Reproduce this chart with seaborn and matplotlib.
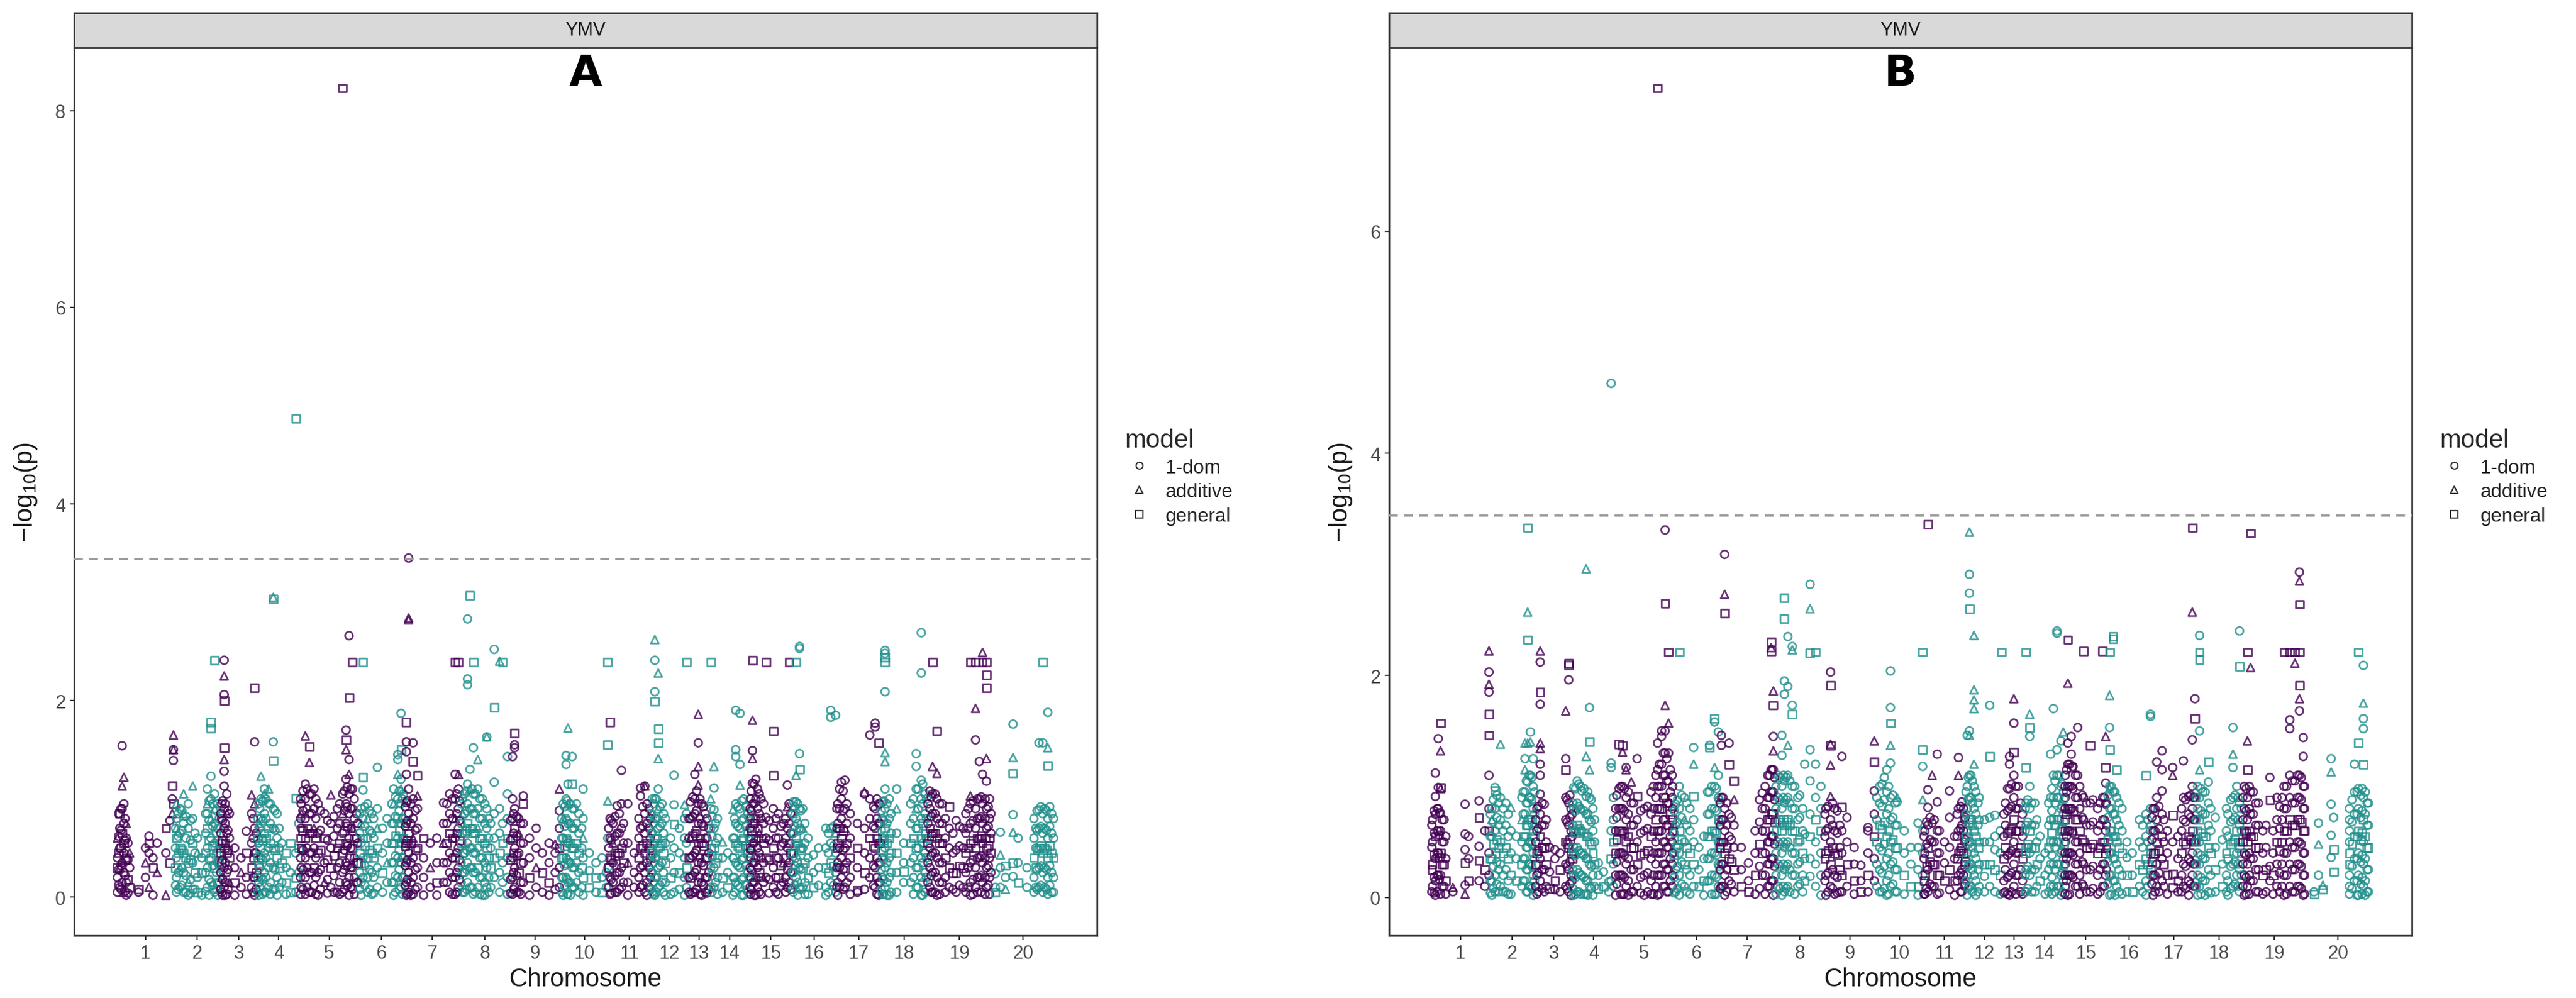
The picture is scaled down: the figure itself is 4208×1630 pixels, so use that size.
import numpy as np
import pandas as pd
import matplotlib
matplotlib.use("Agg")
import matplotlib.pyplot as plt
import seaborn as sns
from matplotlib.lines import Line2D

chromosomes = list(range(1, 21))
chrom_len_mb = [59, 46, 38, 43, 59, 47, 56, 50, 52, 48, 43, 38, 22, 40, 43, 45, 45, 47, 65, 64]
model_codes = {"c": "1-dom", "t": "additive", "s": "general"}
model_names = ["1-dom", "additive", "general"]
threshold = 3.44
chrom_colors = {"odd": "#440154", "even": "#21908C"}
panel_title = "YMV"

# one string per chromosome: "position(% of chromosome):model+(-log10 p * 100),..."
# peaks and scattered markers
ymv_a = [
    "2:c40,c20,c5,t60,s30 6:c70,c50,s85,c10,t30 10:c154,t113,c90,s65,c35,c15 13:t122,c95,c75,s55,c45,c25,t5 17:t75,c60,s40,c15,c2 23:c30,s10,t45 38:c5,s8 50:c50,t35,c20 56:c62,c45,s55,t10 63:c40,c2,s30 70:c55,t25 85:s70,c45,t2 92:c78,s35 96:c100,s113,t85 98:c139,t150,t165,c150,s95",
    "4:c80,t70,s60,c40,c20,c5,t95 12:c90,c65,s50,t30,c10 20:t85,c75,s45,c25,c5,t105 30:c95,c70,s35,t15,c2 40:t113,c80,s55,c35,c8 50:c60,t45,c20,s5 60:c40,s25,c2 72:c110,t95,c85,s70,c50,c30,c10 80:s178,s172,c123,c100,t80,c60,s40,c15 88:s241,c105,t90,c75,c55,s30,c5 95:c95,c70,t50,c35,s15,c2",
    "4:c95,c80,c55,s35,t20,c5 11:c241,t225,c206,s200,s152,t140,c128,c113,c90,c70,s50,c30,c10 18:c105,t85,c65,s45,c25,c3 25:c85,c60,s40,t15 39:c50,c30,s15,c2 56:c40,t25,c10 70:c67,s45,c20,c3 84:t104,c85,c55,s30,c10 92:s213,c158,t95,c70,c45,c20,c2",
    "3:c95,t75,c55,s35,c15,c2 8:t123,c100,c80,s60,c40,c20 16:c110,t105,c85,s65,c45,c25,c5 26:t110,c95,s70,c50,c30,c10 37:t305,s303,c158,s139,c90,c70,s50,c30,c8 46:c85,c60,s40,c20,c2 57:c55,s35,c15 67:s45,c30,s15,c3 77:s55,c25,s5 90:s487,s101,c45,s20,c5 97:c75,s50,c25",
    "2:t85,c95,c70,s50,c30,c10 9:t164,c115,c100,c80,s60,c40,c20,c3 16:s153,t137,c105,c85,s65,c45,c25,c5 24:c110,c90,t70,c50,s30,c12 31:c95,c65,s45,c25,c2 42:c85,s60,c35,t15 53:t104,c75,c50,s30,c10 64:c90,c70,s50,c30,c5 73:s823,c105,t85,c65,s45,c25,c5 79:c170,s160,t150,c120,c95,c75,s55,c35,c15 84:c266,s203,c140,t125,c105,c85,c60,s40,c20,c2 90:s239,c110,c90,t70,s50,c30,c8 97:c85,c60,s35,c15",
    "6:c90,t75,c55,s35,c15,c2 10:s239,s122,c109,c80,s60,c40,c20 20:c95,t80,c60,s40,c20,c5 29:c85,c65,s45,c25,c3 41:c132,c90,t70,s50,c30,c10 52:c70,c45,s25,c5 62:c80,c55,t35,c15 76:c110,t95,c75,s55,c35,c15,c2 85:c145,c140,t125,c100,s80,c60,c40,c20 92:c187,s150,c120,t110,c95,c75,s55,c35,c10 97:c105,c80,s60,c40,c20",
    "3:s178,c158,c148,c125,c96,c75,s55,c35,c15,c2 7:c345,t284,t282,c110,c85,s65,c45,c25,c5 15:c157,s138,c100,c80,t60,c40,c20,c3 23:t103,s124,c90,c70,s50,c30,c10 34:s60,c40,c20,c2 46:c55,t30,c10 58:c60,c35,s15,c2 70:c96,c75,t55,c35,c15 81:c105,c85,s65,c45,c25,c5 91:s239,c125,c100,t80,c60,s40,c20,c3 97:s239,t125,c110,c90,c70,c50,c30,c10",
    "5:c100,t85,c65,s45,c25,c5 15:c283,c222,c216,c115,c95,s75,c55,c35,c15 20:s307,c130,t110,c90,s70,c50,c30,c10 27:s239,c152,c105,c85,s65,c45,c25,c3 36:t140,c110,c90,t70,c50,s30,c10 45:c100,c80,s60,c40,c20,c2 54:t163,c163,c90,c70,s50,c30,c10 62:c75,c50,s30,c10 69:c252,s193,c117,c85,c60,s40,c20 80:t240,c90,c65,s45,c25,c5 86:s239,c75,s55,c35,c15 96:c143,c105,c80,s60,c40,c20,c3",
    "6:c143,c100,c80,s60,c40,c20,c3 10:s167,c155,c152,c90,s70,c50,c30,c10 18:c80,t65,c45,s25,c5 27:c103,s95,c75,c55,c35,c15 39:c60,c40,s20,c2 52:c70,c50,t30,c10 64:c45,s25,c5 77:c55,c35,s15,c2 89:t54,c45,c25,c8 97:t110,c88,c70,s50,c30,c10",
    "5:c95,t80,c60,s40,c20,c2 11:c144,c135,c100,c80,s60,c40,c20 15:t172,c115,t95,c75,c55,s35,c15,c3 24:s115,c143,c90,c70,s50,c30,c10 33:c95,c75,s55,c35,c15 47:c110,c80,t60,c40,s20,c2 60:c45,c27,s10 74:c35,s20,c5 87:c40,c20,s5 96:c25,c10 99:s239,s155,t98,c60,c30",
    "4:s178,c80,c60,s40,c20,c3 11:c75,t55,c35,c15 21:c93,c65,s45,c25,c5 31:c129,c95,c70,s50,c30,c10 46:c95,c55,t35,c15,c2 61:c45,c25,c10 76:c111,c103,c70,s50,c30,c10 86:c113,t113,c85,c65,s45,c25,c5 96:c90,c70,s50,c30,c10",
    "4:c100,t85,c65,s45,c25,c5 11:t262,c241,c209,s199,c100,c80,s60,c40,c20,c2 20:t228,s171,s157,t141,c110,t90,c70,s50,c30,c10 30:c95,c75,s55,c35,c15 39:c80,c55,s35,c15,c2 53:c60,c40,s20,c3 62:c124,c94,s74,c50,c25,c5 76:c70,c45,s25,c8 90:t94,c80,c60,c40,c20,c2 95:s239,c85,c55,s30,c10",
    "10:c97,c80,t60,c40,s20,c3 30:c125,c100,c85,s65,c45,c25,c5 46:t186,c157,t133,t114,c95,c75,s55,c35,c15 62:c95,c75,s55,c35,c15,c2 78:c85,c60,s40,c20,c5 94:c70,c45,c25,c8",
    "2:s239,t100,c90,c70,s50,c30,c10 10:t133,c111,c89,c70,s50,c30,c10 19:c80,c60,s40,c20,c3 32:t56,c40,s20,c5 45:c45,c25,s10 58:t89,c60,c40,c20,c2 65:c190,c150,c143,c95,c75,s55,c35,c15 76:c187,c135,t114,c90,c70,s50,c30,c10 85:c100,c80,s60,c40,c20,c2 96:c85,c65,s45,c25,c5",
    "2:c100,c80,s60,c40,c20,c3 7:s241,t180,c149,t141,c116,c95,s75,c55,c35,c15 15:c120,c100,c80,s60,c40,c20,c2 23:c105,c85,t65,c45,s25,c5 39:s239,c81,c60,s40,c20 56:s169,s124,c90,c70,s50,c30,c10 68:c85,c60,c40,s20,c3 80:c75,c55,t35,c15 89:c114,t92,c70,c50,s30,c10 93:s239,c95,c75,s55,c35,c15",
    "3:c97,t85,c65,s45,c25,c5 9:s239,t124,c97,c80,s60,c40,c20 17:c255,c253,c146,s130,c90,c70,s50,c30,c10 24:c90,t70,c50,s30,c10 36:c60,c40,s20,c3 48:c43,c25,s10 60:c50,c30,c12 76:c70,c50,s30,c10,c2 87:c190,c183,c70,c55,s35,c15 98:c185,t65,c45,c25,c5",
    "3:c95,c75,s55,c35,c15,c2 11:c117,c100,c80,s60,c40,c20 19:c119,c90,t70,c50,s30,c10 31:c85,c60,s40,c20,c3 47:c75,s50,c30,s7,c5 63:c105,t107,c70,c45,s25,c8 75:c165,c100,c80,s60,c40,c20 87:c177,c173,c90,c70,s50,c30,c10 95:s157,c95,c75,s55,c35,c15,c2",
    "3:c97,c80,s60,c40,c20,c3 9:c251,c248,s244,s239,c209,t147,t138,c110,c90,s70,c50,c30,c10 18:c100,c80,s60,c40,c20,c2 34:c110,t90,c65,s45,c25,c5 49:s26,c55,c35,c15 64:c95,c75,s55,c35,c15 76:c146,c133,c110,t90,c70,s50,c30,c10 87:c269,c228,c119,c100,c80,s60,c40,c20,c2 95:c105,c85,s65,c45,c25,c5",
    "4:c108,c90,s70,c50,c30,c10 8:s239,t133,c105,c85,s65,c45,c25,c5 15:s169,t126,c100,c80,s60,c40,c20,c2 23:c95,c75,s55,c35,c15 34:s92,c70,c50,s30,c10 45:c78,c48,s25,c5 56:c70,c50,s30,c10 67:s239,t103,c95,c75,s55,c35,c15,c2 75:s239,t192,c160,c90,c70,s50,c30,c10 81:c138,c100,c80,s60,c40,c20 86:s239,t249,c125,c95,c75,s55,c35,c15 92:s239,s226,s213,t141,c118,c90,c70,s50,c30,c10 97:c100,c80,s60,c40,c20,c3",
    "6:c24,c10,s5 14:c66,t43,c30,c10 22:s32,c20,t8 34:c176,t142,s126,c84,t66,s35,c21 42:c60,c35,s15 56:c30,c10 70:c70,c50,s30,c10 75:c157,c89,c70,s50,c30,c10 81:s239,c157,c85,c65,s45,c25,c5 89:c188,t152,s134,c80,c60,s40,c20,c3 95:c85,c65,s45,c25,c5",
]

# the densely packed markers of the main columns
ymv_a_dense = [
    "4:c85,c62,s45,c28,c12 8:c90,c68,s50,c32,c8 15:c80,c58,s38,c22,c6 20:c55,c38,s18,c4",
    "2:c70,c50,s30,c12 8:c85,c62,s45,c25,c8 16:c88,c68,s48,c30,c12 25:c82,c60,s40,c22,c5 35:c78,c58,s38,c18,c4 45:c65,c45,s25,c8 68:c85,c65,s45,c25,c6 76:c98,c78,s58,c38,c18,c2 84:c95,c72,s52,c32,c12 92:c88,c65,s45,c25,c8 98:c80,c55,s35,c15",
    "2:c85,c65,s45,c25,c8 7:c98,c78,s58,c38,c18,c2 14:c95,c75,s55,c35,c15,c2 21:c88,c68,s48,c28,c8 89:c80,c60,s40,c20,c5 96:c65,c45,s25,c8",
    "1:c80,c60,s40,c20,c5 5:c90,c70,s50,c30,c10 12:c98,c78,s58,c38,c18,c3 20:c100,c80,s60,c40,c20,c5 30:c95,c75,s55,c35,c15,c3 41:c88,c68,s48,c28,c8 51:c70,c50,s30,c10",
    "1:c100,c80,s60,c40,c20,c3 5:c108,c88,s68,c48,c28,c8 12:c110,c90,s70,c50,c30,c10 20:c105,c85,s65,c45,c25,c5 27:c100,c80,s60,c40,c20,c3 35:c88,c68,s48,c28,c8 47:c78,c58,s38,c18,c4 58:c82,c62,s42,c22,c5 68:c95,c75,s55,c35,c15,c3 76:c108,c88,s68,c48,c28,c8 81:c112,c92,s72,c52,c32,c12 87:c110,c90,s70,c50,c30,c10 93:c100,c80,s60,c40,c20,c3 99:c75,c55,s35,c15",
    "3:c85,c65,s45,c25,c8 14:c92,c72,s52,c32,c12 24:c88,c68,s48,c28,c8 33:c80,c60,s40,c20,c4 72:c95,c75,s55,c35,c15 80:c102,c82,s62,c42,c22,c5 88:c108,c88,s68,c48,c28,c8 95:c100,c80,s60,c40,c20,c3",
    "1:c92,c72,s52,c32,c12 5:c98,c78,s58,c38,c18,c3 11:c95,c75,s55,c35,c15,c2 19:c88,c68,s48,c28,c8 76:c95,c75,s55,c35,c15 86:c100,c80,s60,c40,c20,c3 94:c105,c85,s65,c45,c25,c5 99:c98,c78,s58,c38,c18",
    "2:c95,c75,s55,c35,c15 9:c105,c85,s65,c45,c25,c5 13:c108,c88,s68,c48,c28,c8 24:c110,c90,s70,c50,c30,c10 31:c105,c85,s65,c45,c25,c5 40:c100,c80,s60,c40,c20,c3 50:c95,c75,s55,c35,c15,c2 58:c80,c60,s40,c20,c5",
    "2:c78,c58,s38,c18,c4 8:c85,c65,s45,c25,c8 14:c82,c62,s42,c22,c5 22:c75,c55,s35,c15,c3",
    "2:c80,c60,s40,c20,c5 8:c92,c72,s52,c32,c12 13:c98,c78,s58,c38,c18,c3 20:c95,c75,s55,c35,c15,c2 28:c90,c70,s50,c30,c10 38:c85,c65,s45,c25,c5 44:c70,c50,s30,c10",
    "1:c70,c50,s30,c10 7:c78,c58,s38,c18,c4 16:c82,c62,s42,c22,c5 26:c85,c65,s45,c25,c8 36:c75,c55,s35,c15 72:c80,c60,s40,c20,c5 81:c92,c72,s52,c32,c12 91:c95,c75,s55,c35,c15,c2 99:c80,c60,s40,c20",
    "1:c85,c65,s45,c25,c8 7:c95,c75,s55,c35,c15,c3 15:c100,c80,s60,c40,c20,c5 25:c92,c72,s52,c32,c12 34:c85,c65,s45,c25,c5",
    "3:c80,c60,s40,c20,c5 20:c102,c82,s62,c42,c22,c5 38:c108,c88,s68,c48,c28,c8 54:c100,c80,s60,c40,c20,c3 70:c92,c72,s52,c32,c12 86:c80,c60,s40,c20,c4",
    "5:c82,c62,s42,c22,c5 14:c75,c55,s35,c15 62:c80,c60,s40,c20,c5 70:c92,c72,s52,c32,c12 80:c98,c78,s58,c38,c18,c2 90:c92,c72,s52,c32,c12 99:c80,c60,s40,c20",
    "1:c90,c70,s50,c30,c10 4:c108,c88,s68,c48,c28,c8 11:c115,c95,s75,c55,c35,c15,c2 19:c110,c90,s70,c50,c30,c10 27:c100,c80,s60,c40,c20,c3 33:c95,c75,s55,c35,c15 46:c78,c58,s38,c18,c4 62:c80,c60,s40,c20,c5 74:c72,c52,s32,c12 85:c80,c60,s40,c20,c5 97:c85,c65,s45,c25,c8",
    "1:c85,c65,s45,c25,c8 6:c92,c72,s52,c32,c12 13:c95,c75,s55,c35,c15,c2 20:c88,c68,s48,c28,c8 29:c75,c55,s35,c15,c3 82:c65,c45,s25,c5 93:c72,c52,s32,c12",
    "1:c90,c70,s50,c30,c10 7:c110,c90,s70,c50,c30,c10 15:c108,c88,s68,c48,c28,c8 23:c95,c75,s55,c35,c15 83:c92,c72,s52,c32,c12 91:c100,c80,s60,c40,c20,c3 98:c95,c75,s55,c35,c15",
    "1:c88,c68,s48,c28,c8 6:c98,c78,s58,c38,c18,c3 13:c95,c75,s55,c35,c15,c2 22:c85,c65,s45,c25,c5 70:c100,c80,s60,c40,c20,c3 80:c110,c90,s70,c50,c30,c10 90:c115,c95,s75,c55,c35,c15,c2 98:c100,c80,s60,c40,c20",
    "1:c95,c75,s55,c35,c15 6:c102,c82,s62,c42,c22,c5 12:c105,c85,s65,c45,c25,c5 19:c95,c75,s55,c35,c15,c3 28:c80,c60,s40,c20,c5 40:c65,c45,s25,c8 50:c72,c52,s32,c12 60:c85,c65,s45,c25,c5 64:c90,c70,s50,c30,c10 71:c98,c78,s58,c38,c18,c3 78:c100,c80,s60,c40,c20,c5 84:c102,c82,s62,c42,c22,c5 90:c100,c80,s60,c40,c20,c3 95:c92,c72,s52,c32,c12 99:c85,c65,s45,c25",
    "67:c80,c60,s40,c20,c5 72:c88,c68,s48,c28,c8 78:c92,c72,s52,c32,c12 84:c90,c70,s50,c30,c10 87:c88,c68,s48,c28,c8 92:c92,c72,s52,c32,c12 98:c80,c60,s40,c20,c5",
]

ymv_b = [
    "2:c70,c50,s30,c10 7:c112,c91,c75,s55,c35,c15,c2 12:c143,c99,c80,s60,c40,c20 16:s157,t132,s99,t98,c76,c60,s40,c20,c3 22:c70,c50,s30,c10 37:t9,c5 58:c84,c57,c43,s31,c11,t3 64:c55,c35,s15 82:c87,s72,c46,s33,c15 92:c60,s25,c10 99:t222,c203,t192,c185,s165,s146,c110,c80,s60,c40,c20",
    "5:c80,t70,c55,s35,c15,c2 12:c99,s96,c80,c60,s40,c20,c5 24:t138,c90,c70,s50,c30,c10 36:c85,c65,s45,c25,c5 47:t81,c60,c40,s20,c3 59:c55,c35,s15 71:c90,t70,c50,s30,c10 78:t139,c125,t115,c95,c75,s55,c35,c15 84:s333,t257,s232,t139,c104,c85,s65,c45,c25,c5 90:c149,t140,c110,c90,s70,c50,c30,c10 96:c125,c100,c80,s60,c40,c20,c2",
    "5:c80,c60,s40,c20,c3 14:t222,c212,s185,c174,t139,t134,c120,c110,c93,c75,s55,c35,c15 25:c84,c65,s45,c25,c5 39:c45,c23,s8 53:c43,c35,s15,c7 67:c40,s25,c5 82:t168,c125,s115,c90,c70,s50,c30,c10 90:s211,s209,c196,c85,c65,s45,c25,c5 96:c80,c60,s40,c20,c2",
    "3:c99,c80,s60,c40,c20,c2 11:c105,c85,s65,c45,c25,c5 22:c96,t80,c60,s40,c20 32:t296,t127,c91,c75,s55,c35,c15,c3 40:c171,s140,t115,c90,c70,s50,c30,c10 48:c80,c60,s40,c20,c2 61:c31,c20,s8 73:c23,s10 85:c14,c5 91:c463,c121,c117,c60,s35,c15 96:c90,c70,s50,c30,c10",
    "1:c80,c60,s40,c20,c2 7:s138,c98,c80,s60,c40,c20 13:s137,t131,c100,c80,s60,c40,c20,c3 19:t115,c117,c90,c70,s50,c30,c10 28:t104,c85,c65,s45,c25,c5 38:c125,s91,c70,c50,s30,c10 50:c80,c60,s40,c20,c2 62:c95,c75,s55,c35,c15,c3 73:s729,c139,c115,c100,c80,s60,c40,c20,c2 80:c150,c145,c120,c100,s80,c60,c40,c20 86:c331,s265,t173,c150,c130,c110,c90,s70,c50,c30,c10 92:s221,t157,c130,c105,c85,s65,c45,c25,c5 98:c110,c90,s70,c50,c30,c10",
    "5:c84,c65,s45,c25,c5 13:s221,c100,c80,s60,c40,c20,c2 24:c90,t70,c50,s30,c10 36:c80,c60,s40,c20,c3 44:c135,t120,s91,c70,c50,s30,c10 55:c45,c25,s10 66:c55,c35,s15,c2 78:c137,s135,c95,c75,s55,c35,c15 89:s161,c158,t117,c100,c80,s60,c40,c20,c3 97:c149,c110,c90,s70,c50,c30,c10",
    "3:c146,c137,c90,c70,s50,c30,c10 9:c309,t273,s256,c80,c60,s40,c20,c2 17:c139,s120,c75,c55,s35,c15 26:s105,t88,c65,c45,s25,c5 39:c45,c25,s10 52:c31,c15,s5 64:c60,c40,s20,c3 77:c94,c80,c60,s40,c20 87:c110,c90,s70,c50,c30,c10 93:s230,t225,s222,c115,c95,s75,c55,c35,c15 97:t186,s173,c145,t132,c115,c95,s75,c55,c35,c15,c2",
    "6:c110,c90,s70,c50,c30,c10 14:c146,c128,c100,c80,s60,c40,c20,c2 19:s270,s251,c195,c183,c105,c85,s65,c45,c25,c5 26:c235,c190,t137,c110,c90,s70,c50,c30,c10 35:c226,t223,c173,s165,c100,c80,s60,c40,c20 46:c90,c70,s50,c30,c10 60:c120,c57,c35,s15 71:c282,t260,s220,c133,c105,c75,s55,c35,c19 82:s221,c120,c90,s70,c50,c30,c10 93:c100,c80,s60,c40,c20,c2",
    "3:c80,c60,s40,c20,c2 12:c203,s191,t138,s137,t119,t91,c70,c50,s30,c10 20:c80,c60,s40,c20,c3 34:c127,s81,c60,c40,s20,c5 44:c72,c50,s30,c10 58:c45,c30,s15,c3 71:c29,c15,s5 85:c63,c60,c40,s20,c5 97:t141,s122,c96,c75,s55,c35,c15",
    "8:c100,c85,s65,c45,c25,c5 23:c115,c95,c75,s55,c35,c15,c2 31:c204,c171,s157,t137,c121,c90,c70,s50,c30,c10 45:t90,c86,c65,s45,c25,c5 60:c60,c40,s20,c3 74:c45,c30,s10 89:c67,c45,c25,s10,c2 99:s221,s133,c118,t88,c60,c40,c20",
    "4:c60,c40,s20,c3 11:s336,c97,c81,c65,s45,c25,c5 21:t110,c67,c50,s30,c10 33:c129,c86,c60,c40,s20,c3 50:c50,c31,s15 62:c96,c72,c45,s25,c7 74:c55,c35,s15,c2 83:c126,t110,c80,c60,s40,c20 91:c86,c65,s45,c25,c5 97:c70,c50,s30,c10",
    "4:c146,c100,c80,s60,c40,c20,c2 10:t329,c291,c274,s260,c150,t146,c110,c90,s70,c50,c30,c10 22:t236,t187,t178,t170,t120,c100,c80,s60,c40,c20 36:c90,c70,s50,c30,c10 50:c70,c50,s30,c19,c5 64:c173,s127,c72,c50,s30,c10 78:c74,c55,c43,s25,c5 92:c60,c40,s20,c3 95:s221",
    "10:c85,c65,s45,c25,c5 29:c127,c120,c98,c80,s60,c40,c20,c2 49:t179,c157,s131,c110,c90,s70,c50,c30,c10 70:c100,c80,s60,c40,c20 89:c75,c55,s35,c15,c3",
    "3:s221,s117,c85,c65,s45,c25,c5 12:t165,s153,c145,c100,c80,s60,c40,c20 25:c85,c65,s45,c25,c5 38:c55,c35,s15 51:c40,c20,c3 65:c129,c90,c70,s50,c30,c10 72:c170,c110,c90,s70,c50,c30,c10 81:c240,c238,c133,c110,c90,s70,c50,c30,c10 91:c141,c100,c80,s60,c40,c20,c2 97:t149,c95,c75,s55,c35,c15",
    "2:c110,c90,s70,c50,c30,c10 8:s232,t193,c139,c120,c100,s80,c60,c40,c20,c2 16:c145,s117,c129,c100,c80,s60,c40,c20 31:c153,c110,c90,s70,c50,c30,c10 45:s222,c90,c70,s50,c30,c10 61:s137,c85,c65,s45,c25,c5 78:c80,c60,s40,c20,c3 90:s222,c90,c70,s50,c30,c10 97:t145,s117,c103,c84,c60,s40,c20",
    "6:s221,t182,c153,s133,c100,t98,c80,s60,c40,c20,c2 14:s235,s233,c95,c75,s55,c35,c15 22:s115,c90,c70,s50,c30,c10 34:c80,c60,s40,c20,c3 45:c50,c36,s20,c5 57:c40,c20,s5 73:c70,c50,s30,c10 88:s110,c75,c55,s35,c15,c2 98:c165,c163,c80,c60,s40,c20",
    "4:c80,c60,s40,c20,c2 12:c122,c90,c70,s50,c30,c10 24:c132,c115,c96,c75,s55,c35,c15 36:c60,c40,s20,c3 48:c117,t110,s74,c50,s21,s9 60:c55,c35,s15,c5 72:c123,c90,c70,s50,c30,c10 84:c91,c75,s55,c35,c15,c2 92:s333,t257,c142,c100,c80,s60,c40,c20 98:c179,s161,c90,c70,s50,c30,c10",
    "4:c100,c80,s60,c40,c20,c2 8:c236,s221,s214,c150,t115,c90,s70,c50,c30,c10 15:c95,c75,s55,c35,c15 27:c104,s122,c85,c65,s45,c25,c5 42:c72,c45,s25,c5 57:c52,c30,s10 69:c75,c55,s35,c15,c2 80:c153,t129,c117,c90,c70,s50,c30,c10 88:c100,c80,s60,c40,c20 94:c240,s208,c85,c65,s45,c25,c5",
    "3:c100,c80,s60,c40,c20,c2 8:s221,t141,s115,c90,c70,s50,c30,c10 13:s328,t207,c95,c75,s55,c35,c15 21:c85,c65,s45,c25,c5 32:c60,c40,s20,c3 43:c108,s88,c28,c15 54:c90,c70,s50,c30,c10 65:s221,c100,c80,s60,c40,c20,c2 74:s221,c160,c152,c110,c90,s70,c50,c30,c10 82:s221,t211,c105,c85,s65,c45,c25,c5 89:c293,t285,s264,s221,s191,t179,c168,c110,c90,s70,c50,c30,c10 95:c144,c127,c100,c80,s60,c40,c20,c2",
    "12:s3,c5 19:t48,c67,c20 26:s7,t11 39:c125,t113,c84,c56,c36 43:c72,s43,s23 68:c80,c60,s40,c20,c3 76:c120,c95,c75,s55,c35,c15 82:s221,s139,c98,c80,s60,c40,c20,c2 90:c209,t175,c161,c152,s120,c90,s70,c50,c30,c10 96:c85,c65,s45,c25,c5",
]

ymv_b_dense = [
    "1:c65,c45,s25,c5 5:c78,c58,s38,c18,c4 10:c80,c60,s40,c20,c5 14:c76,c56,s36,c16 19:c70,c50,s30,c10 25:c55,c35,s15,c3",
    "2:c75,c55,s35,c15,c4 8:c88,c68,s48,c28,c8 16:c92,c72,s52,c32,c12 20:c85,c65,s45,c25,c5 30:c80,c60,s40,c20,c5 41:c75,c55,s35,c15,c3 74:c95,c75,s55,c35,c15 81:c105,c85,s65,c45,c25,c5 87:c110,c90,s70,c50,c30,c10 93:c108,c88,s68,c48,c28,c8 99:c95,c75,s55,c35,c15",
    "2:c70,c50,s30,c10 9:c82,c62,s42,c22,c5 19:c85,c65,s45,c25,c8 30:c70,c50,s30,c10 86:c88,c68,s48,c28,c8 93:c92,c72,s52,c32,c12 99:c75,c55,s35,c15",
    "1:c85,c65,s45,c25,c8 7:c98,c78,s58,c38,c18,c3 15:c102,c82,s62,c42,c22,c5 19:c100,c80,s60,c40,c20,c3 27:c98,c78,s58,c38,c18,c3 36:c95,c75,s55,c35,c15,c2 44:c88,c68,s48,c28,c8 52:c70,c50,s30,c10",
    "3:c92,c72,s52,c32,c12 10:c100,c80,s60,c40,c20,c3 16:c98,c78,s58,c38,c18,c3 23:c95,c75,s55,c35,c15,c2 32:c85,c65,s45,c25,c5 44:c78,c58,s38,c18,c4 56:c82,c62,s42,c22,c5 66:c100,c80,s60,c40,c20,c3 70:c110,c90,s70,c50,c30,c10 76:c120,c100,s80,c60,c40,c20,c3 83:c130,c110,s90,c70,c50,c30,c10 89:c125,c105,s85,c65,c45,c25,c5 95:c115,c95,s75,c55,c35,c15 99:c100,c80,s60,c40,c20",
    "2:c78,c58,s38,c18,c4 9:c88,c68,s48,c28,c8 18:c92,c72,s52,c32,c12 29:c85,c65,s45,c25,c5 74:c95,c75,s55,c35,c15 83:c100,c80,s60,c40,c20,c3 93:c98,c78,s58,c38,c18,c3 99:c88,c68,s48,c28",
    "1:c85,c65,s45,c25,c8 6:c90,c70,s50,c30,c10 13:c85,c65,s45,c25,c5 21:c72,c52,s32,c12 72:c88,c68,s48,c28,c8 82:c100,c80,s60,c40,c20,c3 90:c110,c90,s70,c50,c30,c10 95:c115,c95,s75,c55,c35,c15 99:c108,c88,s68,c48,c28",
    "2:c100,c80,s60,c40,c20,c3 10:c108,c88,s68,c48,c28,c8 17:c110,c90,s70,c50,c30,c10 23:c108,c88,s68,c48,c28,c8 30:c105,c85,s65,c45,c25,c5 40:c100,c80,s60,c40,c20,c3 50:c92,c72,s52,c32,c12 56:c80,c60,s40,c20,c5",
    "1:c75,c55,s35,c15 7:c82,c62,s42,c22,c5 16:c85,c65,s45,c25,c8 25:c78,c58,s38,c18,c4 30:c65,c45,s25,c5",
    "2:c90,c70,s50,c30,c10 13:c102,c82,s62,c42,c22,c5 18:c108,c88,s68,c48,c28,c8 27:c100,c80,s60,c40,c20,c3 36:c92,c72,s52,c32,c12 41:c85,c65,s45,c25,c5",
    "2:c55,c35,s15,c3 8:c68,c48,s28,c8 16:c72,c52,s32,c12 26:c70,c50,s30,c10 38:c60,c40,s20,c4 80:c75,c55,s35,c15 88:c82,c62,s42,c22,c5 95:c80,c60,s40,c20 99:c72,c52,s32,c12",
    "1:c95,c75,s55,c35,c15 7:c108,c88,s68,c48,c28,c8 14:c110,c90,s70,c50,c30,c10 18:c105,c85,s65,c45,c25,c5 27:c95,c75,s55,c35,c15,c2 33:c85,c65,s45,c25,c5",
    "3:c75,c55,s35,c15,c4 20:c98,c78,s58,c38,c18,c3 38:c102,c82,s62,c42,c22,c5 58:c100,c80,s60,c40,c20,c3 80:c85,c65,s45,c25,c5",
    "1:c80,c60,s40,c20,c5 7:c88,c68,s48,c28,c8 17:c85,c65,s45,c25,c5 30:c70,c50,s30,c10 60:c85,c65,s45,c25,c5 68:c98,c78,s58,c38,c18,c3 76:c105,c85,s65,c45,c25,c5 86:c110,c90,s70,c50,c30,c10 94:c102,c82,s62,c42,c22,c5 99:c88,c68,s48,c28",
    "1:c100,c80,s60,c40,c20,c3 5:c115,c95,s75,c55,c35,c15 12:c120,c100,s80,c60,c40,c20,c3 20:c118,c98,s78,c58,c38,c18 26:c110,c90,s70,c50,c30,c10 36:c100,c80,s60,c40,c20,c3 42:c92,c72,s52,c32,c12 52:c85,c65,s45,c25,c5 67:c88,c68,s48,c28,c8 84:c85,c65,s45,c25,c5 94:c90,c70,s50,c30,c10 99:c85,c65,s45,c25",
    "2:c92,c72,s52,c32,c12 10:c100,c80,s60,c40,c20,c3 18:c95,c75,s55,c35,c15,c2 27:c85,c65,s45,c25,c5 80:c65,c45,s25,c5 92:c70,c50,s30,c10 99:c65,c45,s25",
    "1:c72,c52,s32,c12 8:c80,c60,s40,c20,c5 17:c82,c62,s42,c22,c5 28:c70,c50,s30,c10 68:c80,c60,s40,c20,c5 77:c88,c68,s48,c28,c8 88:c92,c72,s52,c32,c12 95:c90,c70,s50,c30,c10",
    "1:c90,c70,s50,c30,c10 11:c98,c78,s58,c38,c18,c3 20:c95,c75,s55,c35,c15,c2 32:c80,c60,s40,c20,c4 66:c80,c60,s40,c20,c5 75:c88,c68,s48,c28,c8 84:c92,c72,s52,c32,c12 91:c90,c70,s50,c30,c10 98:c80,c60,s40,c20",
    "1:c90,c70,s50,c30,c10 6:c98,c78,s58,c38,c18,c3 11:c100,c80,s60,c40,c20,c3 17:c95,c75,s55,c35,c15 25:c85,c65,s45,c25,c5 37:c65,c45,s25,c5 48:c60,c40,s20,c3 58:c82,c62,s42,c22,c5 62:c90,c70,s50,c30,c10 69:c100,c80,s60,c40,c20,c3 78:c105,c85,s65,c45,c25,c5 86:c110,c90,s70,c50,c30,c10 92:c108,c88,s68,c48,c28,c8 97:c100,c80,s60,c40,c20,c3",
    "68:c70,c50,s30,c10 72:c88,c68,s48,c28,c8 80:c95,c75,s55,c35,c15,c2 86:c92,c72,s52,c32,c12 88:c98,c78,s58,c38,c18,c3 93:c95,c75,s55,c35,c15,c2 98:c85,c65,s45,c25,c5",
]


def to_frame(*spec_lists):
    rows = []
    for specs in spec_lists:
        offset = 0.0
        for chrom, length, spec in zip(chromosomes, chrom_len_mb, specs):
            for group in spec.split():
                pos, vals = group.split(":")
                for tok in vals.split(","):
                    rows.append({
                        "chrom": chrom,
                        "pos": offset + float(pos) / 100 * length,
                        "logp": int(tok[1:]) / 100,
                        "model": model_codes[tok[0]],
                        "band": "odd" if chrom % 2 else "even",
                    })
            offset += length
    return pd.DataFrame(rows)


sns.set_theme(style="white")
plt.rcParams["font.family"] = ["Liberation Sans", "DejaVu Sans"]
plt.rcParams["mathtext.fontset"] = "custom"
plt.rcParams["mathtext.rm"] = "Liberation Sans"
plt.rcParams["mathtext.it"] = "Liberation Sans:italic"

W, H = 4208, 1631
fig = plt.figure(figsize=(W / 100, H / 100), dpi=100)

frame_col = "#333333"
total = sum(chrom_len_mb)
mids = np.cumsum([0] + chrom_len_mb[:-1]) + np.array(chrom_len_mb) / 2


def draw_panel(left_px, specs, dense, letter):
    ax_w, top_px, bot_px = 1671, 79, 1529
    ax = fig.add_axes([left_px / W, (H - bot_px) / H, ax_w / W, (bot_px - top_px) / H])
    df = to_frame(specs, dense)

    sns.scatterplot(data=df, x="pos", y="logp", hue="band", style="model",
                    palette=chrom_colors,
                    markers={"1-dom": "o", "additive": "^", "general": "s"},
                    s=85, linewidth=2.0, alpha=0.8, legend=False, ax=ax)
    # open symbols, like ggplot shapes 0/1/2
    for coll in ax.collections:
        coll.set_edgecolors(coll.get_facecolors())
        coll.set_facecolors("none")

    ax.axhline(threshold, color="#9a9a9a", lw=2.6, dashes=(4, 2.8), zorder=3)

    lo, hi = df["logp"].min(), df["logp"].max()
    pad = 0.05 * (hi - lo)
    ax.set_ylim(lo - pad, hi + pad)
    ax.set_xlim(-0.045 * total, 1.045 * total)
    ax.set_xticks(mids, [str(c) for c in chromosomes])
    yt = np.arange(0, hi + 0.01, 2)
    ax.set_yticks(yt, [f"{v:.0f}" for v in yt])

    ax.set_xlabel("Chromosome", fontsize=30, color="#1a1a1a", labelpad=5)
    ax.set_ylabel("\u2212log$_{10}$(p)", fontsize=30, color="#1a1a1a")
    ax.yaxis.label.set_va("center")
    ax.yaxis.set_label_coords(-0.047, 0.5)

    ax.tick_params(axis="both", length=5, width=1.6, color=frame_col,
                   labelcolor="#4d4d4d", labelsize=22, pad=5,
                   bottom=True, left=True)
    for sp in ax.spines.values():
        sp.set_color(frame_col)
        sp.set_linewidth(2)
    ax.grid(False)

    ax.text(0.5, 0.958, letter, transform=ax.transAxes, ha="center",
            va="baseline", fontsize=50, fontweight="bold", family="DejaVu Sans",
            color="black")

    # facet strip
    sx = fig.add_axes([left_px / W, (H - top_px) / H, ax_w / W, 57 / H])
    sx.set_facecolor("#d9d9d9")
    sx.set_xticks([])
    sx.set_yticks([])
    for sp in sx.spines.values():
        sp.set_color(frame_col)
        sp.set_linewidth(2)
    sx.text(0.5, 0.5, panel_title, transform=sx.transAxes, ha="center",
            va="center", fontsize=22, color="#1a1a1a")

    handles = [Line2D([], [], ls="", marker=m, ms=8, mfc="none", mec=frame_col,
                      mew=1.6) for m in ["o", "^", "s"]]
    fig.legend(handles, model_names, title="model", loc="upper left",
               bbox_to_anchor=((left_px + 1716) / W, (H - 700) / H),
               frameon=False, fontsize=23, title_fontsize=30, alignment="left",
               handlelength=1.5, handletextpad=0.6, labelspacing=0.3,
               borderpad=0, borderaxespad=0)
    return ax


draw_panel(121, ymv_a, ymv_a_dense, "A")
draw_panel(2269, ymv_b, ymv_b_dense, "B")

fig.savefig("out.png", dpi=100)
